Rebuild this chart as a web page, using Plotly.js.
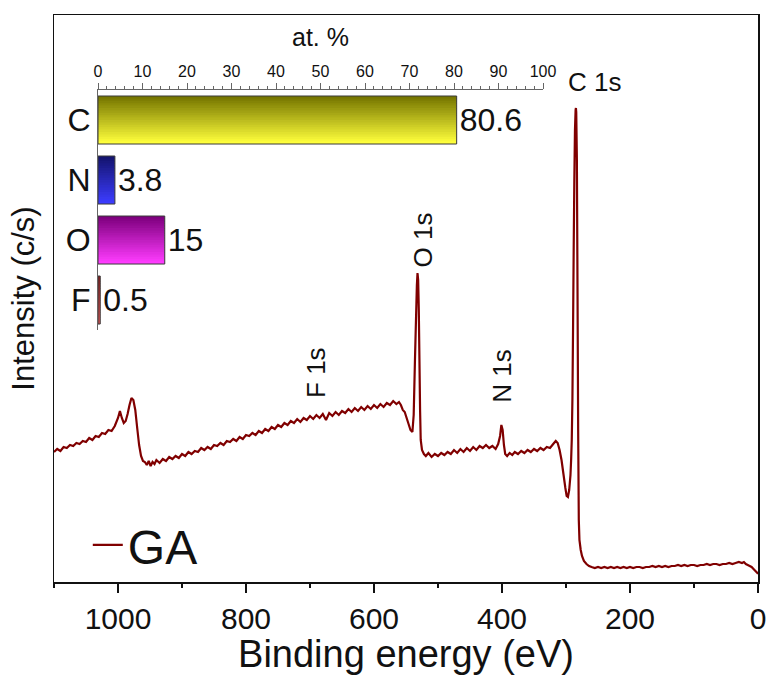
<!DOCTYPE html>
<html>
<head>
<meta charset="utf-8">
<script src="https://cdn.plot.ly/plotly-3.0.1.min.js"></script>
<style>html,body{margin:0;padding:0;background:#fff}#chart{width:769px;height:675px}</style>
</head>
<body>
<div id="chart"></div>
<script>
// ---- XPS survey spectrum (GA) ----
const bindingEnergy = [1100,1095,1090,1085,1080,1075,1070,1065,1060,1055,1050,1045,1040,1035,1030,1025,1020,1015,1010,1005,
1000,997,994,991,988,985,982,979,976,973,970,967,964,961,958,955,952,949,946,943,940,935,930,925,920,915,910,905,900,895,
890,885,880,875,870,865,860,855,850,845,840,835,830,825,820,815,810,805,800,795,790,785,780,775,770,765,760,755,750,745,
740,735,730,725,720,715,710,705,700,695,690,685,680,675,670,665,660,655,650,645,640,635,630,625,620,615,610,605,600,595,
590,585,580,575,570,565,561,558,555,552,549,546,543,540,538,536,534,533,532,531,530,529,528,527,525,522,519,515,510,505,
500,495,490,485,480,475,470,465,460,455,450,445,440,435,430,425,420,415,410,406,403,401,399,397,395,392,388,384,380,375,
370,365,360,355,350,345,340,335,330,325,320,316,313,310,307,304,301,299,297,295,293,292,291,290,289,288,287,286,285,284.5,
284,283,282,281,280,279,277,275,272,268,264,260,255,250,245,240,235,230,225,220,215,210,205,200,195,190,185,180,175,170,
165,160,155,150,145,140,135,130,125,120,115,110,105,100,95,90,85,80,75,70,65,60,55,50,45,40,35,30,25,22,19,16,13,10,7,4,1,0];
const intensity = [13000,13300,13100,13500,13400,13700,13600,13900,13800,14100,14000,14400,14200,14600,14500,14900,14800,15200,15100,15600,
16400,17100,16400,15900,16100,16800,17700,18400,18200,17200,15400,13700,12600,12100,12000,11700,12100,11600,12000,11800,12200,11900,12300,12100,12500,12300,12600,12400,12800,12600,
13000,12800,13100,13000,13400,13200,13500,13300,13700,13600,13900,13700,14100,14000,14300,14100,14500,14300,14700,14600,14900,14700,15100,14900,15300,15100,15500,15300,15700,15500,
15900,15700,16100,15900,16300,16000,16400,16200,16600,16300,16700,16400,16800,16200,16900,16600,17000,16700,17100,16900,17300,17000,17400,17100,17500,17200,17600,17300,17700,17400,
17800,17500,17900,17700,18100,17800,18000,17700,17200,17000,16400,15800,15200,15000,16700,22200,27200,29700,30900,30200,27200,22200,17200,14200,13200,12800,12600,12900,12500,12800,
12600,12900,12700,13000,12800,13200,12900,13300,13000,13400,13100,13500,13200,13600,13400,13700,13400,13600,13300,13800,14600,15700,15200,13700,12800,12600,12900,12700,13000,12800,
13100,12900,13200,13000,13300,13100,13400,13200,13500,13400,13800,14100,13900,13200,12200,10800,9400,8600,8500,9200,10700,12200,14200,18200,25200,33200,40200,45200,47200,47400,
47000,42200,29200,15200,6200,4200,3200,2600,2100,1800,1600,1500,1400,1500,1400,1500,1400,1500,1400,1500,1400,1500,1400,1500,1400,1500,1500,1400,1500,1500,
1600,1500,1600,1500,1600,1500,1600,1600,1700,1600,1700,1600,1700,1700,1600,1700,1700,1800,1700,1800,1800,1700,1800,1800,1900,1800,1900,2000,1900,2000,1800,1700,1600,1500,1300,1100,900,800];

// ---- inset: elemental composition ----
const elements = ['C', 'N', 'O', 'F'];
const atPercent = [80.6, 3.8, 15, 0.5];
const atLabels = ['80.6', '3.8', '15', '0.5'];

// peak labels
const peakNames = ['C 1s', 'O 1s', 'N 1s', 'F 1s'];
const peakEnergy = [256, 523, 400, 691];

// ---- styles ----
const FONT = 'Liberation Sans, Arial, Helvetica, sans-serif';
const topColors = [[118,118,0],[20,20,110],[125,0,125],[140,25,25]];
const botColors = [[255,255,60],[60,60,255],[255,60,255],[225,85,85]];
const peakY = [0.882, 0.603, 0.362, 0.370];
const peakAngle = [0, -90, -90, -90];

const traces = [{
  type: 'scatter', mode: 'lines', name: 'GA',
  x: bindingEnergy, y: intensity,
  line: {color: '#800000', width: 2.2, simplify: false},
  hoverinfo: 'skip'
}];

const nSlices = 20;
const barW = 0.8;
for (let k = 0; k < nSlices; k++) {
  const t = k / (nSlices - 1);
  const cols = elements.map((e, i) => {
    const c = topColors[i].map((v, j) => Math.round(v + (botColors[i][j] - v) * t));
    return 'rgb(' + c.join(',') + ')';
  });
  const w = (k === nSlices - 1) ? barW / nSlices : barW / nSlices + 0.015;
  traces.push({
    type: 'bar', orientation: 'h', xaxis: 'x2', yaxis: 'y2',
    x: atPercent, y: elements,
    width: w,
    offset: -barW / 2 + k * barW / nSlices,
    marker: {color: cols, line: {width: 0}},
    showlegend: false, hoverinfo: 'skip'
  });
}
traces.push({
  type: 'bar', orientation: 'h', xaxis: 'x2', yaxis: 'y2',
  x: atPercent, y: elements, width: barW, offset: -barW / 2,
  marker: {color: 'rgba(0,0,0,0)', line: {width: 1, color: '#3a3a3a'}},
  text: atLabels, textposition: 'outside', cliponaxis: false,
  textfont: {family: FONT, size: 32, color: '#111'},
  showlegend: false, hoverinfo: 'skip'
});

const annotations = peakNames.map((n, i) => ({
  text: n, x: peakEnergy[i], xref: 'x', y: peakY[i], yref: 'paper',
  showarrow: false, textangle: peakAngle[i],
  font: {family: FONT, size: 26, color: '#111'},
  xanchor: 'center', yanchor: 'middle'
}));

const layout = {
  width: 769, height: 675,
  margin: {l: 54, r: 11, t: 15, b: 93},
  paper_bgcolor: '#fff', plot_bgcolor: 'rgba(0,0,0,0)',
  font: {family: FONT, color: '#111'},
  barmode: 'overlay',
  showlegend: true,
  legend: {x: 0.048, y: 0.065, xanchor: 'left', yanchor: 'middle',
           font: {family: FONT, size: 48, color: '#111'}, bgcolor: 'rgba(0,0,0,0)'},
  xaxis: {
    range: [1100, 0], showgrid: false, zeroline: false,
    showline: true, mirror: true, linecolor: '#111', linewidth: 1.5,
    ticks: 'outside', ticklen: 9, tickwidth: 1.5, tickcolor: '#111',
    dtick: 200, tick0: 0,
    minor: {dtick: 100, ticks: 'outside', ticklen: 4, tickwidth: 1.5, tickcolor: '#111'},
    tickfont: {family: FONT, size: 30, color: '#111'},
    title: {text: 'Binding energy (eV)', font: {family: FONT, size: 38, color: '#111'}, standoff: 4}
  },
  yaxis: {
    range: [0, 56700], showgrid: false, zeroline: false,
    showline: true, mirror: true, linecolor: '#111', linewidth: 1.5,
    showticklabels: false, ticks: '',
    title: {text: 'Intensity (c/s)', font: {family: FONT, size: 31, color: '#111'}, standoff: 8}
  },
  xaxis2: {
    domain: [0.0625, 0.6946], anchor: 'y2', side: 'top',
    range: [0, 100], showgrid: false, zeroline: false,
    showline: true, linecolor: '#666', linewidth: 1,
    ticks: 'outside', ticklen: 6, tickwidth: 1, tickcolor: '#666',
    dtick: 10, tick0: 0,
    minor: {dtick: 2, ticks: 'outside', ticklen: 3, tickwidth: 1, tickcolor: '#666'},
    tickfont: {family: FONT, size: 16, color: '#111'},
    title: {text: 'at. %', font: {family: FONT, size: 25, color: '#111'}, standoff: 8}
  },
  yaxis2: {
    domain: [0.4444, 0.8677], anchor: 'x2', type: 'category',
    autorange: 'reversed', showgrid: false, zeroline: false,
    showline: true, linecolor: '#666', linewidth: 1, ticks: '',
    tickfont: {family: FONT, size: 32, color: '#111'}
  },
  annotations: annotations
};

Plotly.newPlot('chart', traces, layout, {displayModeBar: false, staticPlot: true});
</script>
</body>
</html>
